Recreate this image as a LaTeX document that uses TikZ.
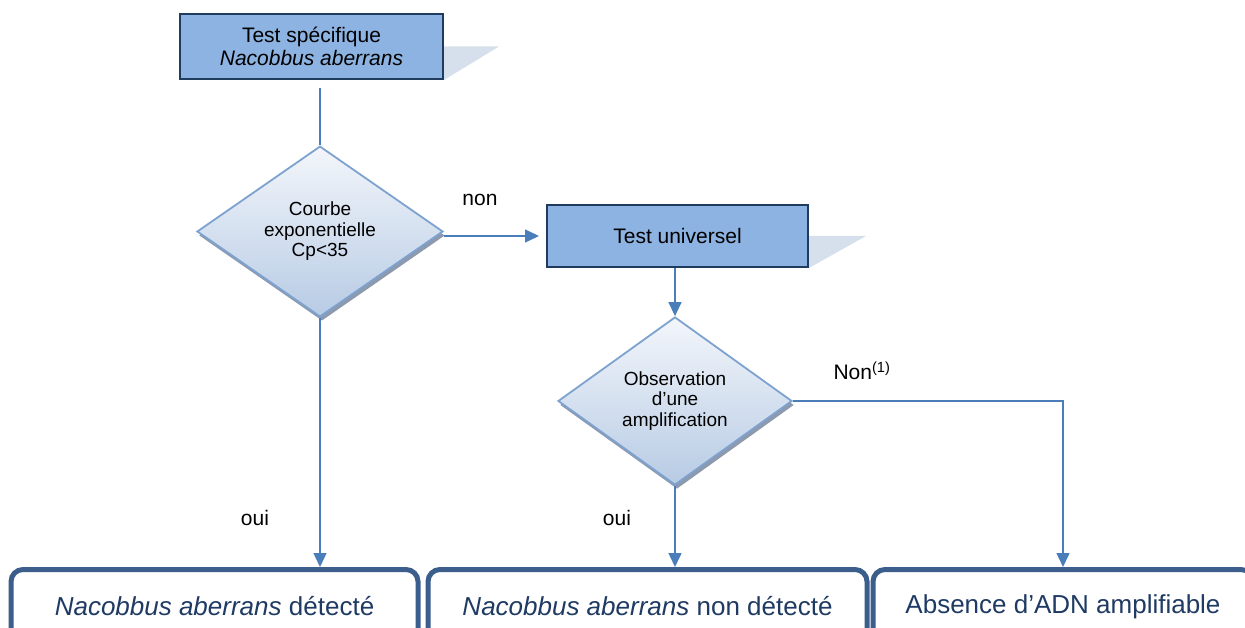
\documentclass[tikz,border=0pt]{standalone}
\usepackage{fontspec}
\setmainfont{Liberation Sans}
\usepackage{tikz}
\usetikzlibrary{arrows.meta,positioning,shapes.geometric,shadows}
\definecolor{boxfill}{HTML}{8DB3E2}
\definecolor{boxline}{HTML}{1F3B5E}
\definecolor{boxshade}{HTML}{D6E0EC}
\definecolor{diamline}{HTML}{7DA2CF}
\definecolor{diamtop}{HTML}{F3F6FB}
\definecolor{diambot}{HTML}{B7CBE4}
\definecolor{diamshadow}{HTML}{8D9AAE}
\definecolor{arrowcol}{HTML}{4A7EBB}
\definecolor{resline}{HTML}{3B5E8C}
\definecolor{restext}{HTML}{1F3A63}
\newcommand{\fsbox}{\fontsize{21}{23}\selectfont}
\newcommand{\fsdiam}{\fontsize{19}{20.5}\selectfont}
\newcommand{\fsres}{\fontsize{26}{30}\selectfont}
\tikzset{
  testbox/.style={draw=boxline, fill=boxfill, line width=2pt, align=center, font=\fsbox, inner sep=0pt},
  shade/.style={fill=boxshade},
  decision/.style={diamond, draw=diamline, line width=1.8pt, top color=diamtop, bottom color=diambot,
    drop shadow={shadow xshift=2pt, shadow yshift=-4pt, fill=diamshadow, opacity=1},
    minimum width=246pt, minimum height=167pt, inner sep=0pt, align=center, font=\fsdiam},
  result/.style={draw=resline, fill=white, line width=5pt, rounded corners=12pt, anchor=north,
    minimum height=74pt, text=restext, font=\fsres},
  link/.style={draw=arrowcol, line width=1.5pt},
  arrow/.style={link, -{Triangle[length=14pt,width=13pt]}},
  lab/.style={font=\fsbox},
}
\begin{document}
\begin{tikzpicture}[x=1pt,y=-1pt]
\useasboundingbox (0,0) rectangle (1245,628);
\clip (0,0) rectangle (1245,628);
\node[testbox, minimum width=263pt, minimum height=65pt] (spec) at (311.5,46.5) {Test spécifique\\\textit{Nacobbus aberrans}};
\fill[shade] (spec.east) -- ++(55,0) -- (spec.south east) -- cycle;
\node[decision] (courbe) at (320,231.5) {Courbe\\exponentielle\\Cp<35};
\node[testbox, minimum width=261pt, minimum height=62pt] (univ) at (677.5,236) {Test universel};
\fill[shade] (univ.east) -- ++(57,0) -- (univ.south east) -- cycle;
\node[decision, minimum width=234pt, minimum height=168pt] (ampli) at (675,401) {Observation\\d’une\\amplification};
\node[result, minimum width=407pt] (detect) at (214.5,567) {\textit{Nacobbus aberrans} détecté};
\node[result, minimum width=439pt] (nondetect) at (647.5,567) {\textit{Nacobbus aberrans} non détecté};
\node[result, minimum width=380pt] (absence) at (1063,567) {Absence d’ADN amplifiable};

\draw[link, shorten <=8pt] (spec.south -| courbe.north) -- (courbe.north);
\draw[arrow, shorten >=7pt] (courbe.east |- univ.west) -- (univ.west);
\node[lab] (non) at (480,200) {non};
\draw[arrow] (univ.south -| ampli.north) -- (ampli.north);
\draw[arrow] (ampli.east) -| (absence.north);
\node[lab] (nonun) at (862,371) {Non\textsuperscript{(1)}};
\draw[arrow] (courbe.south) -- (courbe.south |- detect.north);
\node[lab] (ouia) at (255,518) {oui};
\draw[arrow] (ampli.south) -- (ampli.south |- nondetect.north);
\node[lab] (ouib) at (617,518) {oui};
\end{tikzpicture}
\end{document}
